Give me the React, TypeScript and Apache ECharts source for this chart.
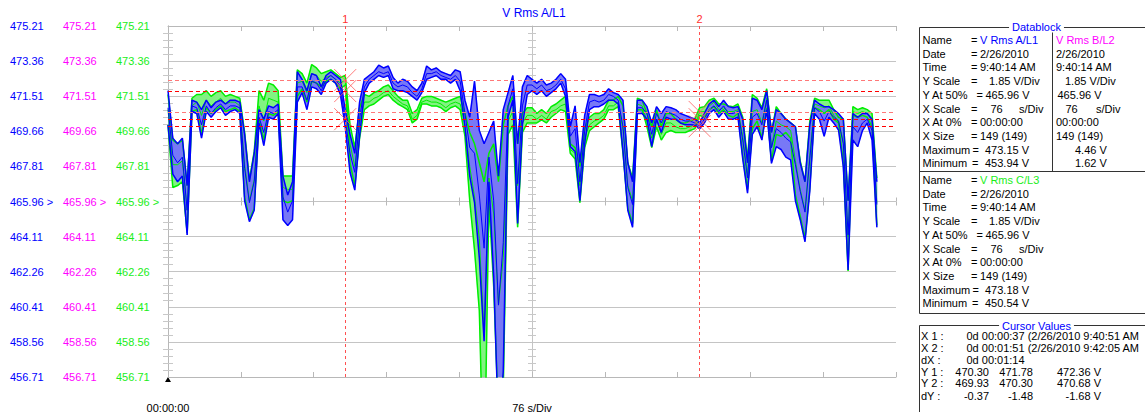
import React, { useEffect, useRef } from 'react';
import * as echarts from 'echarts';

// ---- data (one sample per second, 149 samples) ----
const aMax = [471.8,469.3,469.0,469.3,466.8,471.3,471.2,470.8,471.3,470.9,471.2,471.3,471.1,471.3,471.3,471.2,469.5,467.0,468.5,470.8,470.3,471.0,470.9,471.1,467.3,466.3,467.0,472.8,472.4,471.8,472.7,472.6,472.0,472.6,472.8,472.6,472.4,470.8,469.5,468.5,471.2,472.4,472.6,472.8,473.15,473.0,473.1,472.5,472.2,472.4,472.3,472.0,471.8,472.2,473.1,472.9,473.0,472.8,472.7,472.6,472.9,472.8,471.3,470.4,472.3,469.7,469.0,469.6,470.2,467.3,470.8,471.7,472.6,469.0,472.0,472.6,472.4,472.2,472.4,472.1,472.2,472.4,472.7,472.4,469.9,471.0,468.0,470.5,471.6,471.6,471.5,471.6,471.9,471.7,471.6,471.3,468.0,467.0,471.3,471.3,470.96,470.1,470.96,470.6,470.96,470.9,470.8,470.6,470.5,470.4,470.3,470.1,470.6,471.1,471.3,470.96,471.3,470.96,470.9,470.96,470.3,468.0,471.4,471.3,470.8,471.8,469.6,470.8,470.6,470.3,470.1,469.9,468.0,467.0,470.0,471.3,471.1,470.96,470.96,470.8,470.6,470.3,466.0,470.6,470.4,470.6,470.6,470.3,467.0];
const aMin = [470.0,467.4,467.0,467.3,464.2,470.7,470.6,469.3,470.7,470.4,470.7,470.9,470.5,470.7,470.8,470.6,466.0,464.9,465.5,470.1,468.9,470.4,470.3,470.6,465.0,464.7,465.0,471.2,471.7,470.8,472.0,471.9,471.6,472.2,472.4,472.2,471.6,469.9,467.5,466.56,469.4,471.7,472.2,472.4,472.6,472.5,472.6,471.9,471.8,471.8,471.7,471.5,471.3,471.7,472.4,472.5,472.6,472.4,472.4,472.2,472.4,471.8,469.9,467.3,465.9,463.0,458.6,467.0,462.0,453.94,457.0,470.4,471.3,464.8,470.0,471.6,471.8,471.6,471.8,471.5,471.7,471.9,472.2,471.5,468.85,468.6,466.0,469.0,470.8,470.96,470.96,471.1,471.3,471.3,471.1,468.6,465.5,464.6,470.6,470.6,470.3,468.85,470.3,469.6,470.4,470.3,470.3,470.1,470.0,470.0,469.99,469.8,470.1,470.6,470.8,470.4,470.7,470.3,470.3,470.4,468.2,466.4,469.5,469.9,469.2,470.8,467.97,468.85,468.7,468.3,468.15,466.0,465.0,463.84,466.5,470.6,470.3,469.4,470.4,470.1,469.73,467.8,462.35,469.2,468.85,469.7,470.1,469.2,464.6];
const aAvg = [470.9,468.4,468.0,468.3,465.5,471.0,470.9,470.0,471.0,470.6,470.9,471.1,470.8,471.0,471.0,470.9,467.7,465.9,467.0,470.4,469.6,470.7,470.6,470.8,466.2,465.4,466.0,472.0,472.0,471.3,472.3,472.2,471.8,472.4,472.6,472.4,472.0,470.30,468.5,467.5,470.3,472.0,472.4,472.6,472.8,472.7,472.8,472.2,472.0,472.1,472.0,471.7,471.5,471.9,472.7,472.7,472.8,472.6,472.5,472.4,472.6,472.3,470.6,468.8,468.5,466.3,463.5,468.3,466.0,460.5,463.8,471.0,471.9,466.9,471.0,472.1,472.1,471.9,472.1,471.8,471.9,472.1,472.4,471.9,469.4,469.8,467.0,469.7,471.2,471.3,471.2,471.3,471.6,471.5,471.3,469.9,466.7,465.8,470.9,470.9,470.6,469.5,470.6,470.1,470.7,470.6,470.5,470.3,470.2,470.2,470.1,469.93,470.3,470.8,471.0,470.7,471.0,470.6,470.6,470.7,469.2,467.2,470.4,470.6,470.0,471.3,468.8,469.8,469.6,469.3,469.1,467.9,466.5,465.4,468.2,470.9,470.7,470.2,470.7,470.4,470.2,469.0,464.2,469.9,469.6,470.1,470.3,469.7,465.8];
const cMax = [471.6,469.2,469.0,469.2,466.8,471.4,471.6,471.6,471.8,471.5,471.7,471.8,471.5,471.6,471.5,471.4,469.6,467.1,468.6,471.8,471.3,472.2,472.1,471.8,467.3,467.3,467.3,472.9,472.7,472.2,473.18,473.0,472.7,472.8,472.9,472.7,472.5,472.6,470.0,468.8,470.9,471.6,471.5,471.7,471.8,472.0,472.1,471.8,471.5,471.3,471.3,470.6,470.8,471.4,471.5,471.5,471.4,471.3,471.2,471.3,471.4,471.5,470.6,469.6,469.0,468.0,467.0,468.5,469.0,467.0,470.0,471.0,471.5,469.0,470.6,470.9,470.9,470.6,470.8,470.6,470.96,471.1,471.3,471.5,469.0,468.8,467.8,469.8,470.4,470.6,470.6,470.8,471.3,471.3,471.5,471.0,468.0,467.2,471.4,471.3,470.6,469.9,470.8,469.9,470.6,470.6,470.3,470.1,470.1,470.2,470.3,470.9,470.96,471.3,471.4,471.1,471.1,471.0,470.96,471.1,470.4,468.2,471.6,471.4,470.9,471.9,469.6,470.96,470.6,470.3,470.1,469.9,468.1,467.0,470.2,471.4,471.3,471.3,471.3,470.8,470.4,470.3,466.0,470.96,470.8,470.9,470.8,470.6,467.2];
const cMin = [470.0,466.7,466.8,467.0,464.3,470.7,470.8,469.5,470.9,470.6,470.8,471.0,470.7,470.8,470.9,470.7,466.2,465.0,465.6,470.3,469.2,470.6,470.5,470.7,466.0,465.9,466.0,471.5,471.9,471.2,472.3,472.2,472.0,472.3,472.4,472.2,471.9,472.1,468.0,466.8,469.3,470.8,471.0,471.1,471.3,471.5,471.6,471.3,471.1,470.96,470.8,470.1,470.3,471.1,471.1,471.0,471.0,470.9,470.7,470.9,471.0,470.8,469.4,466.0,463.4,460.2,450.54,466.0,461.5,454.5,456.0,469.5,470.0,464.6,469.6,470.1,470.1,470.1,470.26,470.1,470.4,470.6,470.8,470.7,468.5,468.2,465.9,468.8,469.7,469.9,470.1,470.3,470.8,470.8,470.96,468.5,465.6,464.8,470.8,470.8,469.9,468.8,469.9,469.2,469.6,469.7,469.6,469.6,469.6,469.7,469.8,470.5,470.4,470.8,470.96,470.6,470.8,470.5,470.4,470.6,468.4,466.6,469.8,470.2,469.3,470.9,468.1,469.5,469.4,469.6,469.3,466.3,465.2,464.0,466.7,470.9,470.8,470.6,470.8,470.3,470.1,468.0,462.3,470.5,470.4,470.5,470.4,469.9,464.7];
const cAvg = [470.8,467.9,467.9,468.1,465.5,471.0,471.2,470.5,471.3,471.0,471.2,471.4,471.1,471.2,471.2,471.0,467.9,466.0,467.1,471.0,470.2,471.4,471.3,471.2,466.7,466.6,466.6,472.2,472.3,471.7,472.7,472.6,472.3,472.5,472.6,472.4,472.2,472.36,469.0,467.8,470.1,471.2,471.2,471.4,471.5,471.7,471.8,471.5,471.3,471.1,471.0,470.3,470.5,471.2,471.3,471.2,471.2,471.1,470.9,471.1,471.2,471.1,470.0,467.8,466.2,464.0,459.0,467.2,465.3,460.5,463.0,470.2,470.7,466.8,470.1,470.5,470.5,470.3,470.5,470.3,470.7,470.8,471.0,471.1,468.7,468.5,466.8,469.3,470.0,470.2,470.3,470.5,471.0,471.0,471.2,469.7,466.8,466.0,471.1,471.0,470.2,469.3,470.3,469.5,470.1,470.1,469.9,469.8,469.8,469.9,470.0,470.68,470.7,471.0,471.2,470.8,470.9,470.7,470.7,470.8,469.4,467.4,470.7,470.8,470.1,471.4,468.8,470.2,470.0,469.9,469.7,468.1,466.6,465.5,468.4,471.1,471.0,470.9,471.0,470.5,470.2,469.1,464.1,470.7,470.6,470.7,470.6,470.2,465.9];

const cursorX = [37, 111];
const cursorY1 = [470.30, 471.78, 472.36]; // A, B, C
const cursorY2 = [469.93, 470.30, 470.68]; // A, B, C

const yMin = 456.71;
const yMax = 475.21;
const yStep = 1.85;
const yMid = 465.96;
const xMax = 152;
const xStep = 15.2;

const datablockLabels = ['Name', 'Date', 'Time', 'Y Scale', 'Y At 50%', 'X Scale', 'X At 0%', 'X Size', 'Maximum', 'Minimum'];
const phaseA = ['V Rms A/L1', '2/26/2010', '9:40:14 AM', '1.85 V/Div', '465.96 V', '76', '00:00:00', '149 (149)', '473.15 V', '453.94 V'];
const phaseB = ['V Rms B/L2', '2/26/2010', '9:40:14 AM', '1.85 V/Div', '465.96 V', '76', '00:00:00', '149 (149)', '4.46 V', '1.62 V'];
const phaseC = ['V Rms C/L3', '2/26/2010', '9:40:14 AM', '1.85 V/Div', '465.96 V', '76', '00:00:00', '149 (149)', '473.18 V', '450.54 V'];
const cursorLabels = ['X 1 :', 'X 2 :', 'dX :', 'Y 1 :', 'Y 2 :', 'dY :'];
const startClock = [9, 40, 14];
const recordDate = '2/26/2010';

// ---- styles ----
const BLUE = '#0000ff';
const MAGENTA = '#ff00ff';
const GREEN = '#18ee18';
const FAM = '"Liberation Sans", Arial, sans-serif';
const FONT = `11px ${FAM}`;
const GRID_C = '#c4c4c4';
const CURSOR_LINE_COLORS = ['#ff0000', '#ff0000', '#ff7878'];

const pad = (n: number) => String(n).padStart(2, '0');
const hms = (s: number) => `${pad(Math.floor(s / 3600))}:${pad(Math.floor(s / 60) % 60)}:${pad(s % 60)}`;
const clock = (s: number) => {
  const t = startClock[0] * 3600 + startClock[1] * 60 + startClock[2] + s;
  const h = Math.floor(t / 3600);
  const h12 = ((h + 11) % 12) + 1;
  return `${h12}:${pad(Math.floor(t / 60) % 60)}:${pad(t % 60)} ${h < 12 ? 'AM' : 'PM'}`;
};

const txt = (x: number, y: number, text: string, fill = '#000', align = 'left', font = FONT, extra: any = {}) => ({
  type: 'text', x, y, silent: true, z: 10,
  style: { text, fill, font, align, verticalAlign: 'middle', textAlign: align, textVerticalAlign: 'middle', ...extra },
});
const ln = (x1: number, y1: number, x2: number, y2: number, stroke = '#333') => ({
  type: 'line', silent: true, z: 5, shape: { x1, y1, x2, y2 }, style: { stroke, lineWidth: 1 },
});

function buildGraphic() {
  const g: any[] = [];
  g.push(txt(534, 13, 'V Rms A/L1', BLUE, 'center', `12px ${FAM}`));
  g.push({ type: 'polygon', silent: true, shape: { points: [[165, 382], [171, 382], [168, 377]] }, style: { fill: '#000' } });

  // Datablock frame
  g.push(ln(919.5, 27.5, 1145, 27.5), ln(919.5, 27.5, 919.5, 313.5), ln(919.5, 313.5, 1145, 313.5));
  g.push(ln(919.5, 171.5, 1145, 171.5), ln(1052.5, 27.5, 1052.5, 171.5));
  g.push(txt(1036.5, 27, 'Datablock', BLUE, 'center', FONT, { backgroundColor: '#fff', padding: [0, 3] }));

  const eqX = [971, 971, 971, 971, 976.5, 971, 971, 971, 972.5, 972];
  const valX = [980, 980, 980, 989, 985.5, 990.5, 980, 980, 985, 985];
  const col2X = [1056, 1056, 1056, 1065, 1057.5, 1065.5, 1056, 1056, 1075, 1075];
  const block = (y0: number, vals: string[], col2: string[] | null, nameColor: string) => {
    datablockLabels.forEach((lab, i) => {
      const y = y0 + i * 13.7;
      g.push(txt(922.5, y, lab));
      g.push(txt(eqX[i], y, '='));
      g.push(txt(valX[i], y, vals[i], i === 0 ? nameColor : '#000'));
      if (i === 5) g.push(txt(1019, y, 's/Div'));
      if (col2) {
        g.push(txt(col2X[i], y, col2[i], i === 0 ? MAGENTA : '#000'));
        if (i === 5) g.push(txt(1096, y, 's/Div'));
      }
    });
  };
  block(40, phaseA, phaseB, BLUE);
  block(180, phaseC, null, GREEN);

  // Cursor values frame
  g.push(ln(919.5, 325.5, 1145, 325.5), ln(919.5, 325.5, 919.5, 412));
  g.push(txt(1036.5, 325.5, 'Cursor Values', BLUE, 'center', FONT, { backgroundColor: '#fff', padding: [0, 3] }));
  const rowY = [336, 347.5, 359.5, 371.6, 383.4, 396];
  cursorLabels.forEach((lab, i) => g.push(txt(921, rowY[i], lab)));
  g.push(txt(966.5, rowY[0], `0d ${hms(cursorX[0])} (${recordDate} ${clock(cursorX[0])}`));
  g.push(txt(966.5, rowY[1], `0d ${hms(cursorX[1])} (${recordDate} ${clock(cursorX[1])}`));
  g.push(txt(966.5, rowY[2], `0d ${hms(cursorX[1] - cursorX[0])}`));
  const dY = cursorY2.map((v, i) => v - cursorY1[i]);
  const rightX = [989, 1033, 1101];
  [cursorY1, cursorY2, dY].forEach((row, r) => {
    row.forEach((v, k) => {
      g.push(txt(rightX[k], rowY[3 + r], v.toFixed(2) + (k === 2 ? ' V' : ''), '#000', 'right'));
    });
  });
  return g;
}

// band between min and max, drawn as one polygon through the axis scales
function bandFill(mins: number[], maxs: number[], fill: string, name: string) {
  return {
    type: 'custom', name, silent: true, clip: true, xAxisIndex: 0, yAxisIndex: 0,
    data: [[0, mins[0]]],
    renderItem: (_params: any, api: any) => {
      const upper = maxs.map((v, i) => api.coord([i, v]));
      const lower = mins.map((v, i) => api.coord([i, v])).reverse();
      return { type: 'polygon', shape: { points: upper.concat(lower) }, style: { fill, stroke: fill, lineWidth: 0.5 } };
    },
  };
}

function bandSeries(mins: number[], maxs: number[], avgs: number[], edge: string, fill: string, id: string) {
  const common = { type: 'line', symbol: 'none', silent: true, xAxisIndex: 0, yAxisIndex: 0, clip: true };
  return [
    bandFill(mins, maxs, fill, id + ' band'),
    { ...common, name: id + ' min', data: mins.map((v, i) => [i, v]), lineStyle: { color: edge, width: 1.5 } },
    { ...common, name: id + ' max', data: maxs.map((v, i) => [i, v]), lineStyle: { color: edge, width: 1.5 } },
    { ...common, name: id + ' avg', data: avgs.map((v, i) => [i, v]), lineStyle: { color: edge, width: 1 } },
  ];
}

const yBase = { type: 'value', min: yMin, max: yMax, interval: yStep, gridIndex: 0 };
const xBase = { type: 'value', min: 0, max: xMax, interval: xStep, gridIndex: 0 };

export default function App() {
  const ref = useRef<HTMLDivElement>(null);
  useEffect(() => {
    if (!ref.current) return;
    const chart = echarts.init(ref.current, null, { renderer: 'svg' });
    const labelFmt = (v: number) => (Math.abs(v - yMid) < 0.005 ? v.toFixed(2) + ' >' : v.toFixed(2));
    const labelAxis = (color: string, margin: number) => ({
      ...yBase, position: 'left', axisLine: { show: false }, axisTick: { show: false }, splitLine: { show: false },
      axisLabel: { color, margin, align: 'left', fontSize: 11, fontFamily: FAM, formatter: labelFmt },
    });
    const markers = cursorY1.map((v) => [cursorX[0], v]).concat(cursorY2.map((v) => [cursorX[1], v]));
    const hLineItems: any[] = [];
    [2, 1, 0].forEach((k) => {
      [cursorY1[k], cursorY2[k]].forEach((v) => hLineItems.push({
        yAxis: v, lineStyle: { color: CURSOR_LINE_COLORS[k], type: [4, 3], width: 1 }, label: { show: false },
      }));
    });
    chart.setOption({
      animation: false,
      backgroundColor: '#fff',
      grid: { left: 168, top: 26, width: 728, height: 351, containLabel: false, outerBoundsMode: 'none' },
      xAxis: [
        { ...xBase, position: 'bottom', axisLine: { show: true, lineStyle: { color: '#b8b8b8' } },
          axisTick: { show: true, inside: true, length: 5, lineStyle: { color: '#b8b8b8' } }, splitLine: { show: false },
          axisLabel: { show: true, margin: 25, color: '#000', fontSize: 11, fontFamily: FAM,
            formatter: (v: number) => (Math.abs(v) < 0.01 ? '00:00:00' : Math.abs(v - xMax / 2) < 0.01 ? `${phaseA[5]} s/Div` : '') } },
        { ...xBase, position: 'top', axisLine: { show: true, lineStyle: { color: '#b8b8b8' } },
          axisTick: { show: true, inside: true, length: 5, lineStyle: { color: '#b8b8b8' } }, splitLine: { show: false }, axisLabel: { show: false } },
        { ...xBase, position: 'bottom', offset: -175.5, axisLine: { show: false },
          axisTick: { show: true, inside: true, length: 4, lineStyle: { color: '#b8b8b8' } }, splitLine: { show: false }, axisLabel: { show: false } },
        { ...xBase, position: 'bottom', offset: -175.5, axisLine: { show: false },
          axisTick: { show: true, inside: false, length: 4, lineStyle: { color: '#b8b8b8' } }, splitLine: { show: false }, axisLabel: { show: false } },
      ],
      yAxis: [
        { ...yBase, position: 'left', axisLine: { show: true, lineStyle: { color: '#b8b8b8' } },
          axisTick: { show: false, inside: true }, minorTick: { show: true, splitNumber: 5, length: 5, lineStyle: { color: '#c8c8c8' } },
          splitLine: { show: true, lineStyle: { color: GRID_C, width: 1 } },
          axisLabel: { color: BLUE, margin: 158, align: 'left', fontSize: 11, fontFamily: FAM, formatter: labelFmt } },
        labelAxis(MAGENTA, 105),
        labelAxis(GREEN, 52),
        { ...yBase, position: 'right', axisLine: { show: true, lineStyle: { color: '#b8b8b8' } },
          axisTick: { show: false, inside: true }, minorTick: { show: true, splitNumber: 5, length: 5, lineStyle: { color: '#c8c8c8' } },
          splitLine: { show: false }, axisLabel: { show: false } },
        { ...yBase, position: 'left', offset: -364, axisLine: { show: true, lineStyle: { color: GRID_C } },
          axisTick: { show: false, inside: true }, minorTick: { show: true, splitNumber: 5, length: 4, lineStyle: { color: '#c8c8c8' } },
          splitLine: { show: false }, axisLabel: { show: false } },
        { ...yBase, position: 'left', offset: -364, axisLine: { show: false },
          axisTick: { show: false, inside: false }, minorTick: { show: true, splitNumber: 5, length: 4, lineStyle: { color: '#c8c8c8' } },
          splitLine: { show: false }, axisLabel: { show: false } },
      ],
      series: [
        ...bandSeries(cMin, cMax, cAvg, '#00ee00', '#82f282', 'C'),
        ...bandSeries(aMin, aMax, aAvg, '#0000ff', '#7878f6', 'A'),
        {
          type: 'scatter', name: 'cursor points', silent: true, z: 6,
          data: markers,
          symbol: 'path://M0 0L20 20M20 0L0 20', symbolSize: 22,
          itemStyle: { color: 'rgba(0,0,0,0)', borderColor: '#ff5c5c', borderWidth: 1 },
          markLine: {
            silent: true, symbol: ['none', 'none'], animation: false, z: 7,
            data: [
              ...hLineItems,
              ...cursorX.map((x, k) => ({ xAxis: x, lineStyle: { color: '#ff5050', type: [3, 3], width: 1 },
                label: { show: true, position: 'end', formatter: String(k + 1), color: '#ff3030', fontSize: 11, fontFamily: FAM, distance: 2 } })),
            ],
          },
        },
      ],
      graphic: buildGraphic(),
    });
    return () => chart.dispose();
  }, []);
  return <div ref={ref} style={{ position: 'fixed', left: 0, top: 0, width: 1145, height: 412, background: '#fff' }} />;
}
